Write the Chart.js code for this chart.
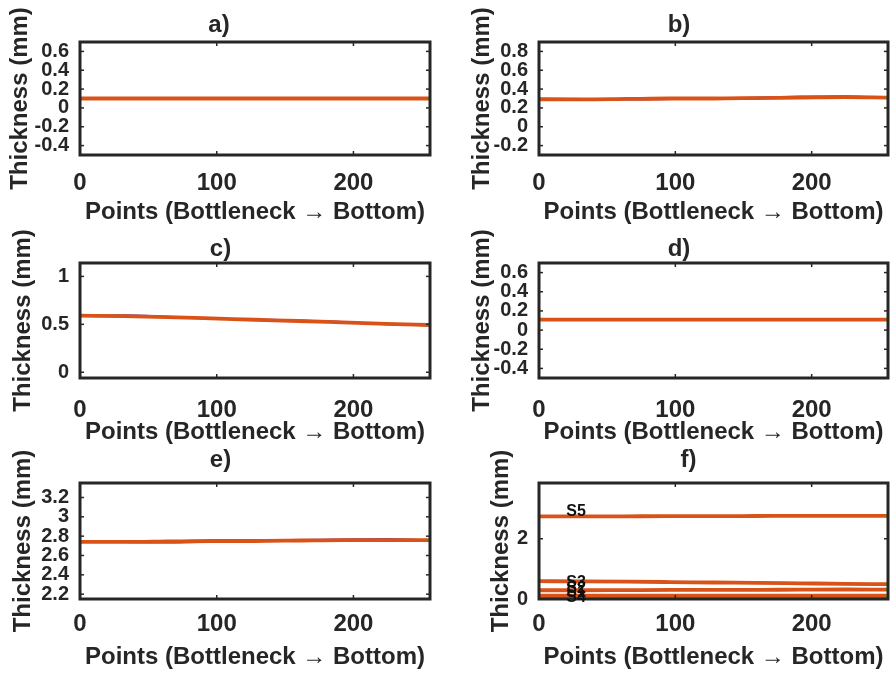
<!DOCTYPE html>
<html><head><meta charset="utf-8">
<script src="https://cdn.jsdelivr.net/npm/chart.js@4/dist/chart.umd.min.js"></script>
<style>
html,body{margin:0;padding:0;background:#fff;width:893px;height:673px;overflow:hidden;position:relative}
canvas{position:absolute}
</style></head><body>
<script>
// ---------------- data ----------------
const X_POINTS = [0, 32, 64, 96, 128, 160, 192, 224, 256];
const X_TICKS = [0, 100, 200];

const S1_RED  = [0.10, 0.10, 0.10, 0.10, 0.10, 0.10, 0.10, 0.10, 0.10];
const S1_BLUE = [0.10, 0.10, 0.10, 0.10, 0.10, 0.10, 0.10, 0.10, 0.10];
const S2_RED  = [0.29, 0.29, 0.295, 0.30, 0.30, 0.305, 0.31, 0.315, 0.31];
const S2_BLUE = [0.30, 0.295, 0.29, 0.295, 0.30, 0.31, 0.32, 0.325, 0.31];
const S3_RED  = [0.59, 0.585, 0.575, 0.562, 0.548, 0.535, 0.52, 0.505, 0.493];
const S3_BLUE = [0.59, 0.595, 0.58, 0.56, 0.55, 0.54, 0.525, 0.50, 0.49];
const S4_RED  = [0.11, 0.11, 0.11, 0.11, 0.11, 0.11, 0.11, 0.11, 0.11];
const S4_BLUE = [0.11, 0.11, 0.11, 0.11, 0.11, 0.11, 0.11, 0.11, 0.11];
const S5_RED  = [2.74, 2.74, 2.745, 2.75, 2.75, 2.755, 2.76, 2.76, 2.76];
const S5_BLUE = [2.745, 2.74, 2.735, 2.745, 2.755, 2.76, 2.765, 2.77, 2.76];

const TICKS_A = [-0.4, -0.2, 0, 0.2, 0.4, 0.6];
const TICKS_B = [-0.2, 0, 0.2, 0.4, 0.6, 0.8];
const TICKS_C = [0, 0.5, 1];
const TICKS_D = [-0.4, -0.2, 0, 0.2, 0.4, 0.6];
const TICKS_E = [2.2, 2.4, 2.6, 2.8, 3, 3.2];
const TICKS_F = [0, 2];

const RANGE_A = [-0.5, 0.7];
const RANGE_B = [-0.3, 0.9];
const RANGE_C = [-0.06, 1.14];
const RANGE_D = [-0.5, 0.7];
const RANGE_E = [2.15, 3.35];
const RANGE_F = [0, 3.85];

const F_LABELS  = ['S5', 'S3', 'S2', 'S1', 'S4'];
const F_LABEL_X = [20, 20, 20, 20, 20];
const F_LABEL_Y = [2.9, 0.55, 0.36, 0.22, 0.06];

const TITLES = ['a)', 'b)', 'c)', 'd)', 'e)', 'f)'];
const X_TITLE = 'Points (Bottleneck \u2192 Bottom)';
const Y_TITLE = 'Thickness (mm)';

// ---------------- style ----------------
const FONT = '"Liberation Sans", Arial, Helvetica, sans-serif';
const INK = '#262626';
const RED = '#D95319';
const BLUE = '#4338c8';
const GREEN = '#1fbf1f';

const framePlugin = {
  id: 'frame',
  afterDatasetsDraw(chart) {
    const {ctx, chartArea: a, scales: {x, y}} = chart;
    ctx.save();
    ctx.strokeStyle = INK;
    ctx.lineWidth = 1.5;
    const seg = (x1, y1, x2, y2) => { ctx.beginPath(); ctx.moveTo(x1, y1); ctx.lineTo(x2, y2); ctx.stroke(); };
    x.ticks.forEach(t => { const p = x.getPixelForValue(t.value); seg(p, a.bottom, p, a.bottom - 4); seg(p, a.top, p, a.top + 4); });
    y.ticks.forEach(t => { const p = y.getPixelForValue(t.value); seg(a.left, p, a.left + 4, p); seg(a.right, p, a.right - 4, p); });
    ctx.lineWidth = 3;
    ctx.strokeRect(a.left, a.top, a.right - a.left, a.bottom - a.top);
    const labels = chart.options.plugins.frame && chart.options.plugins.frame.labels;
    if (labels) {
      ctx.fillStyle = '#111';
      ctx.font = 'bold 16px ' + FONT;
      ctx.textAlign = 'left';
      ctx.textBaseline = 'middle';
      labels.names.forEach((n, i) => {
        ctx.fillText(n, x.getPixelForValue(labels.xs[i]), y.getPixelForValue(labels.ys[i]));
      });
    }
    ctx.restore();
  }
};

function makeChart(p) {
  const cv = document.createElement('canvas');
  cv.width = p.w; cv.height = p.h;
  cv.style.left = p.left + 'px'; cv.style.top = p.top + 'px';
  cv.style.width = p.w + 'px'; cv.style.height = p.h + 'px';
  document.body.appendChild(cv);
  const last = X_POINTS.length - 1;
  const datasets = [];
  p.series.forEach(s => {
    datasets.push({data: [{x: X_POINTS[last], y: s.red[last]}], showLine: false, pointRadius: 1.8,
      pointBackgroundColor: GREEN, pointBorderWidth: 0, order: 1});
    datasets.push({data: X_POINTS.map((v, i) => ({x: v, y: s.red[i]})), borderColor: RED, borderWidth: 3.8,
      pointRadius: 0, cubicInterpolationMode: 'monotone', order: 2});
    datasets.push({data: X_POINTS.map((v, i) => ({x: v, y: s.blue[i]})), borderColor: BLUE, borderWidth: 2,
      pointRadius: 0, cubicInterpolationMode: 'monotone', order: 3});
  });
  const tickFont = {family: FONT, size: 24, weight: 'bold'};
  new Chart(cv, {
    type: 'line',
    data: {datasets},
    options: {
      responsive: false, animation: false, devicePixelRatio: 1,
      layout: {padding: {left: p.padL, right: p.padR, top: p.padT, bottom: p.padB}},
      plugins: {
        legend: {display: false}, tooltip: {enabled: false},
        title: {display: true, text: p.title, color: INK,
          font: {family: FONT, size: 24, weight: 'bold', lineHeight: 1},
          padding: {top: 0, bottom: p.titleGap}},
        frame: {labels: p.labels || null}
      },
      scales: {
        x: {
          type: 'linear', position: 'bottom', min: 0, max: 256,
          grid: {display: false}, border: {display: false},
          afterBuildTicks: s => { s.ticks = X_TICKS.map(v => ({value: v})); },
          afterFit: s => { s.height = p.xH; },
          ticks: {font: tickFont, color: INK, padding: p.xTickPad, maxRotation: 0, autoSkip: false,
            callback: v => String(v)},
          title: {display: true, text: X_TITLE, color: INK, padding: 0,
            font: {family: FONT, size: 24, weight: 'bold', lineHeight: 1}}
        },
        y: {
          type: 'linear', position: 'left', min: p.range[0], max: p.range[1],
          grid: {display: false}, border: {display: false},
          afterBuildTicks: s => { s.ticks = p.ticks.map(v => ({value: v})); },
          afterFit: s => { s.width = p.yW; },
          ticks: {font: {family: FONT, size: 20, weight: 'bold'}, color: INK, padding: 3, autoSkip: false,
            callback: v => String(v)},
          title: {display: true, text: Y_TITLE, color: INK, padding: 0,
            font: {family: FONT, size: 24, weight: 'bold', lineHeight: 1}}
        }
      }
    },
    plugins: [framePlugin]
  });
}

// ---------------- layout ----------------
const COLS = [{left: 0, w: 446, plotL: 80, plotR: 430}, {left: 446, w: 447, plotL: 93, plotR: 442}];
const ROWS = [
  {top: 0, h: 224, plotT: 42, plotB: 155, titleC: 25, padB: 0, xTickPad: 6},
  {top: 224, h: 224, plotT: 39, plotB: 154, titleC: 25, padB: 4, xTickPad: 10},
  {top: 444, h: 229, plotT: 39, plotB: 155, titleC: 16, padB: 4, xTickPad: 3}
];
const PANELS = [
  {col: 0, row: 0, padL: 8,  range: RANGE_A, ticks: TICKS_A, series: [{red: S1_RED, blue: S1_BLUE}]},
  {col: 1, row: 0, padL: 24, range: RANGE_B, ticks: TICKS_B, series: [{red: S2_RED, blue: S2_BLUE}]},
  {col: 0, row: 1, padL: 11, range: RANGE_C, ticks: TICKS_C, series: [{red: S3_RED, blue: S3_BLUE}]},
  {col: 1, row: 1, padL: 24, range: RANGE_D, ticks: TICKS_D, series: [{red: S4_RED, blue: S4_BLUE}]},
  {col: 0, row: 2, padL: 11, range: RANGE_E, ticks: TICKS_E, series: [{red: S5_RED, blue: S5_BLUE}]},
  {col: 1, row: 2, padL: 43, range: RANGE_F, ticks: TICKS_F, series: [
    {red: S1_RED, blue: S1_BLUE}, {red: S2_RED, blue: S2_BLUE}, {red: S3_RED, blue: S3_BLUE},
    {red: S4_RED, blue: S4_BLUE}, {red: S5_RED, blue: S5_BLUE}],
    labels: {names: F_LABELS, xs: F_LABEL_X, ys: F_LABEL_Y}}
];

PANELS.forEach((pn, i) => {
  const c = COLS[pn.col], r = ROWS[pn.row];
  const padT = r.titleC - 12;
  makeChart({
    left: c.left, top: r.top, w: c.w, h: r.h,
    padL: pn.padL, padR: c.w - c.plotR, padT: padT, padB: r.padB,
    titleGap: Math.max(0, r.plotT - padT - 24),
    yW: c.plotL - pn.padL,
    xH: r.h - r.padB - r.plotB,
    xTickPad: r.xTickPad,
    title: TITLES[i], range: pn.range, ticks: pn.ticks, series: pn.series, labels: pn.labels
  });
});
</script>
</body></html>
